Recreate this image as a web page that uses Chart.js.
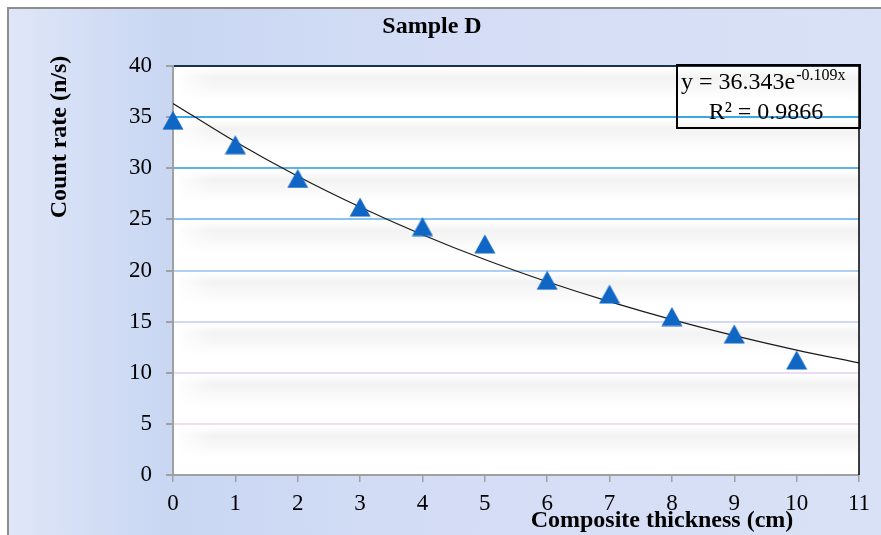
<!DOCTYPE html>
<html>
<head>
<meta charset="utf-8">
<script src="https://cdn.jsdelivr.net/npm/chart.js@4"></script>
<style>
html,body{margin:0;padding:0;background:#fff;}
canvas{display:block;}
</style>
</head>
<body>
<canvas id="c" width="881" height="535"></canvas>
<script>
// ---- data ----
const thickness = [0, 1, 2, 3, 4, 5, 6, 7, 8, 9, 10];
const countRate = [34.7, 32.3, 29.0, 26.2, 24.3, 22.6, 19.05, 17.7, 15.5, 13.8, 11.25];
const trendX = [0, 1, 2, 3, 4, 5, 6, 7, 8, 9, 10, 11];
const trendY = [36.34, 32.59, 29.22, 26.21, 23.50, 21.07, 18.90, 16.95, 15.20, 13.63, 12.22, 10.96];
const yTicks = [0, 5, 10, 15, 20, 25, 30, 35, 40];
const xTicks = [0, 1, 2, 3, 4, 5, 6, 7, 8, 9, 10, 11];
const titleText = "Sample D";
const xTitle = "Composite thickness (cm)";
const yTitle = "Count rate (n/s)";
const eqMain = "y = 36.343e";
const eqSup = "-0.109x";
const r2Text = "R² = 0.9866";

const gridColors = {5:'#f8dcec',10:'#eadcf2',15:'#d3d8f4',20:'#aed0f2',25:'#8ac3ee',30:'#5cb2ec',35:'#3ca7e6',40:'#17344c'};
const SERIF = '"Liberation Serif", "Times New Roman", serif';

// triangle marker image (centered box like Excel)
const tri = document.createElement('canvas');
tri.width = 22; tri.height = 20;
(function(){
  const g = tri.getContext('2d');
  g.fillStyle = '#0f66c4';
  g.beginPath();
  g.moveTo(11, 0.5); g.lineTo(21.5, 19.5); g.lineTo(0.5, 19.5); g.closePath();
  g.fill();
})();

const decor = {
  id: 'decor',
  beforeDraw(chart) {
    const ctx = chart.ctx, a = chart.chartArea;
    const W = chart.width, H = chart.height;
    ctx.save();
    ctx.fillStyle = '#ffffff';
    ctx.fillRect(0, 0, W, H);
    const bg = ctx.createLinearGradient(8, 0, W, 0);
    bg.addColorStop(0, '#dfe6f7');
    bg.addColorStop(0.18, '#c9d7f3');
    bg.addColorStop(0.5, '#d4ddf5');
    bg.addColorStop(1, '#d9e1f6');
    ctx.fillStyle = bg;
    ctx.fillRect(8, 8, W - 8, H - 8);
    ctx.strokeStyle = '#8e8e8e';
    ctx.lineWidth = 2;
    ctx.beginPath();
    ctx.moveTo(8, H); ctx.lineTo(8, 8); ctx.lineTo(W, 8);
    ctx.stroke();
    // plot area
    ctx.fillStyle = '#ffffff';
    ctx.fillRect(a.left, a.top, a.right - a.left, a.bottom - a.top);
    // soft shadow bands under grid lines
    const ys = chart.scales.y;
    yTicks.forEach(v => {
      if (v === 0) return;
      const y = ys.getPixelForValue(v);
      const g = ctx.createLinearGradient(0, y + 2, 0, y + 34);
      g.addColorStop(0, 'rgba(232,232,232,0)');
      g.addColorStop(0.3, 'rgba(232,232,232,0.55)');
      g.addColorStop(0.55, 'rgba(232,232,232,0.35)');
      g.addColorStop(1, 'rgba(232,232,232,0)');
      ctx.fillStyle = g;
      ctx.fillRect(a.left + 6, y + 2, a.right - a.left - 6, 32);
    });
    // fade the band starts near the left axis
    const lf = ctx.createLinearGradient(a.left, 0, a.left + 40, 0);
    lf.addColorStop(0, 'rgba(255,255,255,1)');
    lf.addColorStop(1, 'rgba(255,255,255,0)');
    ctx.fillStyle = lf;
    ctx.fillRect(a.left, a.top, 40, a.bottom - a.top);
    ctx.restore();
  },
  afterDatasetsDraw(chart) {
    const ctx = chart.ctx, a = chart.chartArea;
    ctx.save();
    // right border
    ctx.strokeStyle = '#000000';
    ctx.lineWidth = 1.5;
    ctx.beginPath();
    ctx.moveTo(a.right, a.top); ctx.lineTo(a.right, a.bottom);
    ctx.stroke();
    // equation box
    ctx.lineWidth = 2;
    ctx.strokeRect(677, 65, 183, 63);
    ctx.fillStyle = '#000000';
    ctx.textBaseline = 'alphabetic';
    ctx.textAlign = 'left';
    ctx.font = '24px ' + SERIF;
    ctx.fillText(eqMain, 681, 89);
    const w = ctx.measureText(eqMain).width;
    ctx.font = '16px ' + SERIF;
    ctx.fillText(eqSup, 681 + w + 1, 80);
    ctx.font = '24px ' + SERIF;
    ctx.textAlign = 'center';
    ctx.fillText(r2Text, 766, 119);
    // titles
    ctx.font = 'bold 24px ' + SERIF;
    ctx.textBaseline = 'middle';
    ctx.fillText(titleText, 432, 27);
    ctx.fillText(xTitle, 662, 521);
    ctx.translate(60, 137);
    ctx.rotate(-Math.PI / 2);
    ctx.fillText(yTitle, 0, 0);
    ctx.restore();
  }
};

new Chart(document.getElementById('c'), {
  type: 'scatter',
  data: {
    datasets: [
      {
        label: 'trend',
        type: 'line',
        data: trendX.map((x, i) => ({x: x, y: trendY[i]})),
        borderColor: '#1a1a1a',
        borderWidth: 1.2,
        pointRadius: 0,
        cubicInterpolationMode: 'monotone',
        fill: false,
        order: 2
      },
      {
        label: 'Count rate',
        data: thickness.map((x, i) => ({x: x, y: countRate[i]})),
        pointStyle: tri,
        pointRadius: 11,
        backgroundColor: '#0f66c4',
        borderColor: '#0f66c4',
        clip: false,
        order: 1
      }
    ]
  },
  options: {
    responsive: false,
    animation: false,
    events: [],
    layout: { padding: { left: 0, right: 22, top: 66, bottom: 0 } },
    plugins: { legend: { display: false }, tooltip: { enabled: false }, title: { display: false } },
    scales: {
      x: {
        type: 'linear', min: 0, max: 11,
        afterFit(s) { s.height = 60; },
        afterBuildTicks(s) { s.ticks = xTicks.map(v => ({value: v})); },
        ticks: { color: '#000', font: { family: SERIF, size: 23 }, padding: 8, maxRotation: 0, autoSkip: false },
        grid: { drawOnChartArea: false, tickLength: 7, tickColor: '#a0a0a0', lineWidth: 1.5 },
        border: { color: '#a0a0a0', width: 2 }
      },
      y: {
        type: 'linear', min: 0, max: 40,
        afterFit(s) { s.width = 173; },
        afterBuildTicks(s) { s.ticks = yTicks.map(v => ({value: v})); },
        ticks: { color: '#000', font: { family: SERIF, size: 23 }, padding: 14 },
        grid: {
          tickLength: 7,
          tickColor: '#a0a0a0',
          lineWidth: 2,
          color: c => gridColors[c.tick && c.tick.value] || 'rgba(0,0,0,0)'
        },
        border: { color: '#a0a0a0', width: 2 }
      }
    }
  },
  plugins: [decor]
});
</script>
</body>
</html>
